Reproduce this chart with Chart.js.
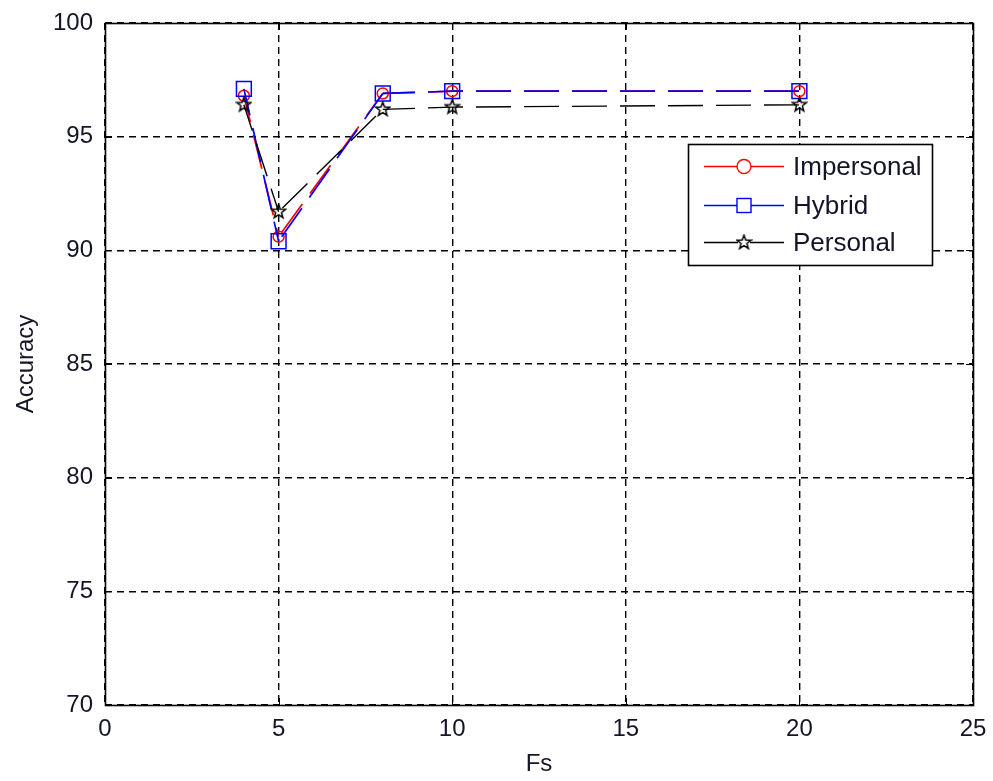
<!DOCTYPE html>
<html>
<head>
<meta charset="utf-8">
<script src="https://cdn.jsdelivr.net/npm/chart.js@4.4.1/dist/chart.umd.min.js"></script>
<style>
  html, body { margin: 0; padding: 0; background: #ffffff; }
  #wrap { width: 993px; height: 781px; }
</style>
</head>
<body>
<div id="wrap"><canvas id="c" width="993" height="781"></canvas></div>
<script>
// Sampling frequency vs. recognition accuracy for three model types
const fsValues   = [4, 5, 8, 10, 20];
const impersonal = [96.8, 90.6, 96.9, 97.0, 97.0];
const hybrid     = [97.1, 90.4, 96.9, 97.0, 97.0];
const personal   = [96.4, 91.7, 96.2, 96.3, 96.4];
const seriesNames = ['Impersonal', 'Hybrid', 'Personal'];
const xTickValues = [0, 5, 10, 15, 20, 25];
const yTickValues = [70, 75, 80, 85, 90, 95, 100];

const FONT = "'Liberation Sans', Arial, sans-serif";
const TEXT_COLOR = '#141428';
const DASH = [35, 13];
const DASH_PERIOD = DASH[0] + DASH[1];

// Five-pointed outline star marker
function makeStar(size, color) {
  const cv = document.createElement('canvas');
  cv.width = size; cv.height = size;
  const g = cv.getContext('2d');
  const cx = size / 2, cy = size / 2;
  const ro = size / 2 - 1.2, ri = ro * 0.42;
  g.beginPath();
  for (let i = 0; i < 10; i++) {
    const r = i % 2 === 0 ? ro : ri;
    const a = -Math.PI / 2 + i * Math.PI / 5;
    const px = cx + r * Math.cos(a), py = cy + r * Math.sin(a);
    if (i === 0) g.moveTo(px, py); else g.lineTo(px, py);
  }
  g.closePath();
  g.lineWidth = 1.5;
  g.strokeStyle = color;
  g.stroke();
  return cv;
}
const starMarker = makeStar(17, '#000000');

const pairs = ys => fsValues.map((x, i) => ({ x: x, y: ys[i] }));

// Keep the dash phase tied to the horizontal position, so dashes of all series line up
const dashPhase = ctx => {
  const left = ctx.chart.chartArea ? ctx.chart.chartArea.left : 0;
  const d = (ctx.p0.x - left - 35) % DASH_PERIOD;
  return (d + DASH_PERIOD) % DASH_PERIOD;
};

// Solid box around the axes with inward tick marks on all four sides
const axesBox = {
  id: 'axesBox',
  afterDraw(chart) {
    const { ctx, chartArea: a, scales } = chart;
    const t = 7;
    ctx.save();
    ctx.strokeStyle = '#000';
    ctx.lineWidth = 1;
    ctx.beginPath();
    xTickValues.forEach(v => {
      const px = Math.round(scales.x.getPixelForValue(v)) + 0.5;
      ctx.moveTo(px, a.bottom); ctx.lineTo(px, a.bottom - t);
      ctx.moveTo(px, a.top); ctx.lineTo(px, a.top + t);
    });
    yTickValues.forEach(v => {
      const py = Math.round(scales.y.getPixelForValue(v)) + 0.5;
      ctx.moveTo(a.left, py); ctx.lineTo(a.left + t, py);
      ctx.moveTo(a.right, py); ctx.lineTo(a.right - t, py);
    });
    ctx.stroke();
    ctx.lineWidth = 1.6;
    ctx.strokeRect(Math.round(a.left) + 0.5, Math.round(a.top) + 0.5,
                   Math.round(a.right - a.left), Math.round(a.bottom - a.top));
    ctx.restore();
  }
};

// Boxed legend inside the plot, line + marker + label per series
const boxLegend = {
  id: 'boxLegend',
  afterDraw(chart) {
    const { ctx, chartArea: a } = chart;
    const w = 244, h = 121;
    const x0 = Math.round(a.right) - 41 - w, y0 = Math.round(a.top) + 121;
    ctx.save();
    ctx.fillStyle = '#fff';
    ctx.fillRect(x0, y0, w, h);
    ctx.strokeStyle = '#000';
    ctx.lineWidth = 1.6;
    ctx.strokeRect(x0 + 0.5, y0 + 0.5, w, h);
    const rows = [y0 + 22, y0 + 61, y0 + 98];
    chart.data.datasets.forEach((ds, i) => {
      const ry = Math.round(rows[i]) + 0.5;
      ctx.strokeStyle = ds.borderColor;
      ctx.lineWidth = 1.4;
      ctx.setLineDash([]);
      ctx.beginPath();
      ctx.moveTo(x0 + 16, ry); ctx.lineTo(x0 + 96, ry);
      ctx.stroke();
      const mx = x0 + 56;
      if (ds.pointStyle === 'circle') {
        ctx.fillStyle = '#fff';
        ctx.beginPath(); ctx.arc(mx, ry, 7, 0, Math.PI * 2); ctx.fill(); ctx.stroke();
      } else if (ds.pointStyle === 'rect') {
        ctx.fillStyle = '#fff';
        ctx.fillRect(mx - 7, ry - 7, 14, 14);
        ctx.strokeRect(mx - 7, ry - 7, 14, 14);
      } else {
        ctx.fillStyle = '#fff';
        ctx.fillRect(mx - 6, ry - 6, 12, 12);
        ctx.drawImage(starMarker, mx - 8.5, ry - 8.5);
      }
      ctx.fillStyle = TEXT_COLOR;
      ctx.font = "26px " + FONT;
      ctx.textBaseline = 'middle';
      ctx.textAlign = 'left';
      ctx.fillText(seriesNames[i], x0 + 105, ry + 1);
    });
    ctx.restore();
  }
};

const lineSet = (name, ys, color, width, style, radius, order) => ({
  label: name, data: pairs(ys),
  borderColor: color, backgroundColor: 'rgba(0,0,0,0)',
  borderWidth: width, borderDash: DASH,
  segment: { borderDashOffset: dashPhase },
  pointStyle: style, pointRadius: radius, pointBorderWidth: 1.5,
  pointBorderColor: color, pointBackgroundColor: 'rgba(0,0,0,0)',
  tension: 0, order: order
});

new Chart(document.getElementById('c'), {
  type: 'line',
  data: {
    datasets: [
      lineSet(seriesNames[0], impersonal, '#ff0000', 1.7, 'circle', 5.5, 3),
      lineSet(seriesNames[1], hybrid, '#0000ff', 1.7, 'rect', 10.5, 2),
      lineSet(seriesNames[2], personal, '#000000', 1.4, starMarker, 8.5, 1)
    ]
  },
  options: {
    responsive: false,
    animation: false,
    events: [],
    layout: { padding: { left: 0, top: 23, right: 20, bottom: 0 } },
    plugins: { legend: { display: false }, tooltip: { enabled: false } },
    scales: {
      x: {
        type: 'linear', min: 0, max: 25,
        afterBuildTicks: s => { s.ticks = xTickValues.map(v => ({ value: v })); },
        afterFit: s => { s.height = 76; s.paddingLeft = 0; s.paddingRight = 0; },
        grid: { color: '#000', lineWidth: 1.4, drawTicks: false },
        border: { display: false, dash: [7, 5] },
        ticks: { padding: 10, color: TEXT_COLOR, font: { family: FONT, size: 24 }, maxRotation: 0 },
        title: { display: true, text: 'Fs', color: TEXT_COLOR, font: { family: FONT, size: 24 }, padding: { top: 0, bottom: 2 } }
      },
      y: {
        type: 'linear', min: 70, max: 100,
        afterBuildTicks: s => { s.ticks = yTickValues.map(v => ({ value: v })); },
        afterFit: s => { s.width = 105; s.paddingTop = 0; s.paddingBottom = 0; },
        grid: { color: '#000', lineWidth: 1.4, drawTicks: false },
        border: { display: false, dash: [7, 5] },
        ticks: { padding: 12, color: TEXT_COLOR, font: { family: FONT, size: 24 } },
        title: { display: true, text: 'Accuracy', color: TEXT_COLOR, font: { family: FONT, size: 24 }, padding: { top: 12, bottom: 0 } }
      }
    }
  },
  plugins: [axesBox, boxLegend]
});
</script>
</body>
</html>
